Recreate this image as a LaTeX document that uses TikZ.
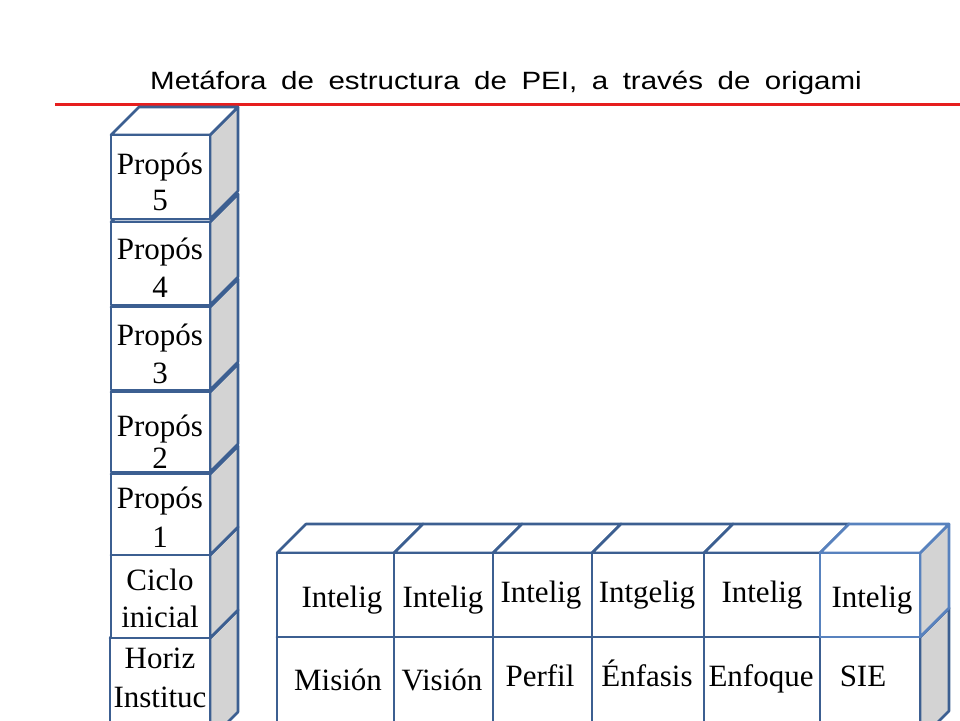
\documentclass[tikz,border=0pt]{standalone}
\usepackage{fontspec}
\setmainfont{Liberation Serif}
\newfontfamily\titlefont{Liberation Sans}
\definecolor{edgeblue}{RGB}{60,95,145}
\definecolor{lightedge}{RGB}{88,130,190}
\definecolor{sidegray}{RGB}{211,211,211}
\definecolor{titlered}{RGB}{230,30,30}
\newcommand{\origamicube}[6]{% x1,y1,x2,y2,depth,colour
  \filldraw[cubeline,draw=#6,fill=sidegray] (#3,#2) -- ({#3+#5},{#2-#5}) -- ({#3+#5},{#4-#5}) -- (#3,#4) -- cycle;
  \filldraw[cubeline,draw=#6,fill=white] (#1,#2) -- ({#1+#5},{#2-#5}) -- ({#3+#5},{#2-#5}) -- (#3,#2) -- cycle;
  \filldraw[cubeline,draw=#6,fill=white] (#1,#2) rectangle (#3,#4);
}
\begin{document}
\begin{tikzpicture}[x=1pt,y=-1pt,
  cubeline/.style={line width=2.6pt,line join=round},
  label/.style={font=\fontsize{31}{36}\selectfont,anchor=base,inner sep=0pt},
  title/.style={font=\titlefont\fontsize{25}{30}\selectfont,anchor=base,inner sep=0pt}]
\useasboundingbox (0,0) rectangle (960,720);
\clip (0,0) rectangle (960,720);
% title and rule
\node[title] (title) at (506,89) {\scalebox{1.18}[1]{\makebox[603pt][s]{Metáfora de estructura de PEI, a través de origami}}};
\coordinate (ruleL) at (55,104.5);
\coordinate (ruleR) at (960,104.5);
\draw[titlered,line width=2.4pt] (ruleL) -- (ruleR);
% left column (bottom up)
\origamicube{110}{638}{210}{740}{28}{edgeblue}
\origamicube{111}{555}{210}{638}{28}{edgeblue}
\origamicube{111}{474}{210}{555}{28}{edgeblue}
\origamicube{111}{392}{210}{472}{28}{edgeblue}
\origamicube{111}{307}{210}{390}{28}{edgeblue}
\origamicube{111}{222}{210}{305}{28}{edgeblue}
\origamicube{111}{135}{210}{219}{28}{edgeblue}
% bottom row, lower cubes
\origamicube{277}{637}{394}{740}{29}{edgeblue}
\origamicube{394}{637}{493}{740}{29}{edgeblue}
\origamicube{493}{637}{592}{740}{29}{edgeblue}
\origamicube{592}{637}{704}{740}{29}{edgeblue}
\origamicube{704}{637}{820}{740}{29}{edgeblue}
\origamicube{820}{637}{920}{740}{29}{edgeblue}
% bottom row, upper cubes
\origamicube{277}{553}{394}{637}{29}{edgeblue}
\origamicube{394}{553}{493}{637}{29}{edgeblue}
\origamicube{493}{553}{592}{637}{29}{edgeblue}
\origamicube{592}{553}{704}{637}{29}{edgeblue}
\origamicube{704}{553}{820}{637}{29}{edgeblue}
\origamicube{820}{553}{920}{637}{29}{lightedge}
% left column texts
\node[label] (p5a) at (160,174) {Propós};
\node[label] (p5b) at (160,210) {5};
\node[label] (p4a) at (160,259) {Propós};
\node[label] (p4b) at (160,297) {4};
\node[label] (p3a) at (160,345) {Propós};
\node[label] (p3b) at (160,383) {3};
\node[label] (p2a) at (160,436) {Propós};
\node[label] (p2b) at (160,468) {2};
\node[label] (p1a) at (160,508) {Propós};
\node[label] (p1b) at (160,547) {1};
\node[label] (cia) at (160,590) {Ciclo};
\node[label] (cib) at (160,627) {inicial};
\node[label] (hia) at (160,668) {Horiz};
\node[label] (hib) at (160,707) {Instituc};
% bottom row texts
\node[label] (i1) at (342,607) {Intelig};
\node[label] (i2) at (443,607) {Intelig};
\node[label] (i3) at (541,602) {Intelig};
\node[label] (i4) at (647,602) {Intgelig};
\node[label] (i5) at (762,602) {Intelig};
\node[label] (i6) at (872,607) {Intelig};
\node[label] (mision) at (338,690) {Misión};
\node[label] (vision) at (442,690) {Visión};
\node[label] (perfil) at (540,686) {Perfil};
\node[label] (enfasis) at (647,686) {Énfasis};
\node[label] (enfoque) at (761,686) {Enfoque};
\node[label] (sie) at (863,686) {SIE};
\end{tikzpicture}
\end{document}
